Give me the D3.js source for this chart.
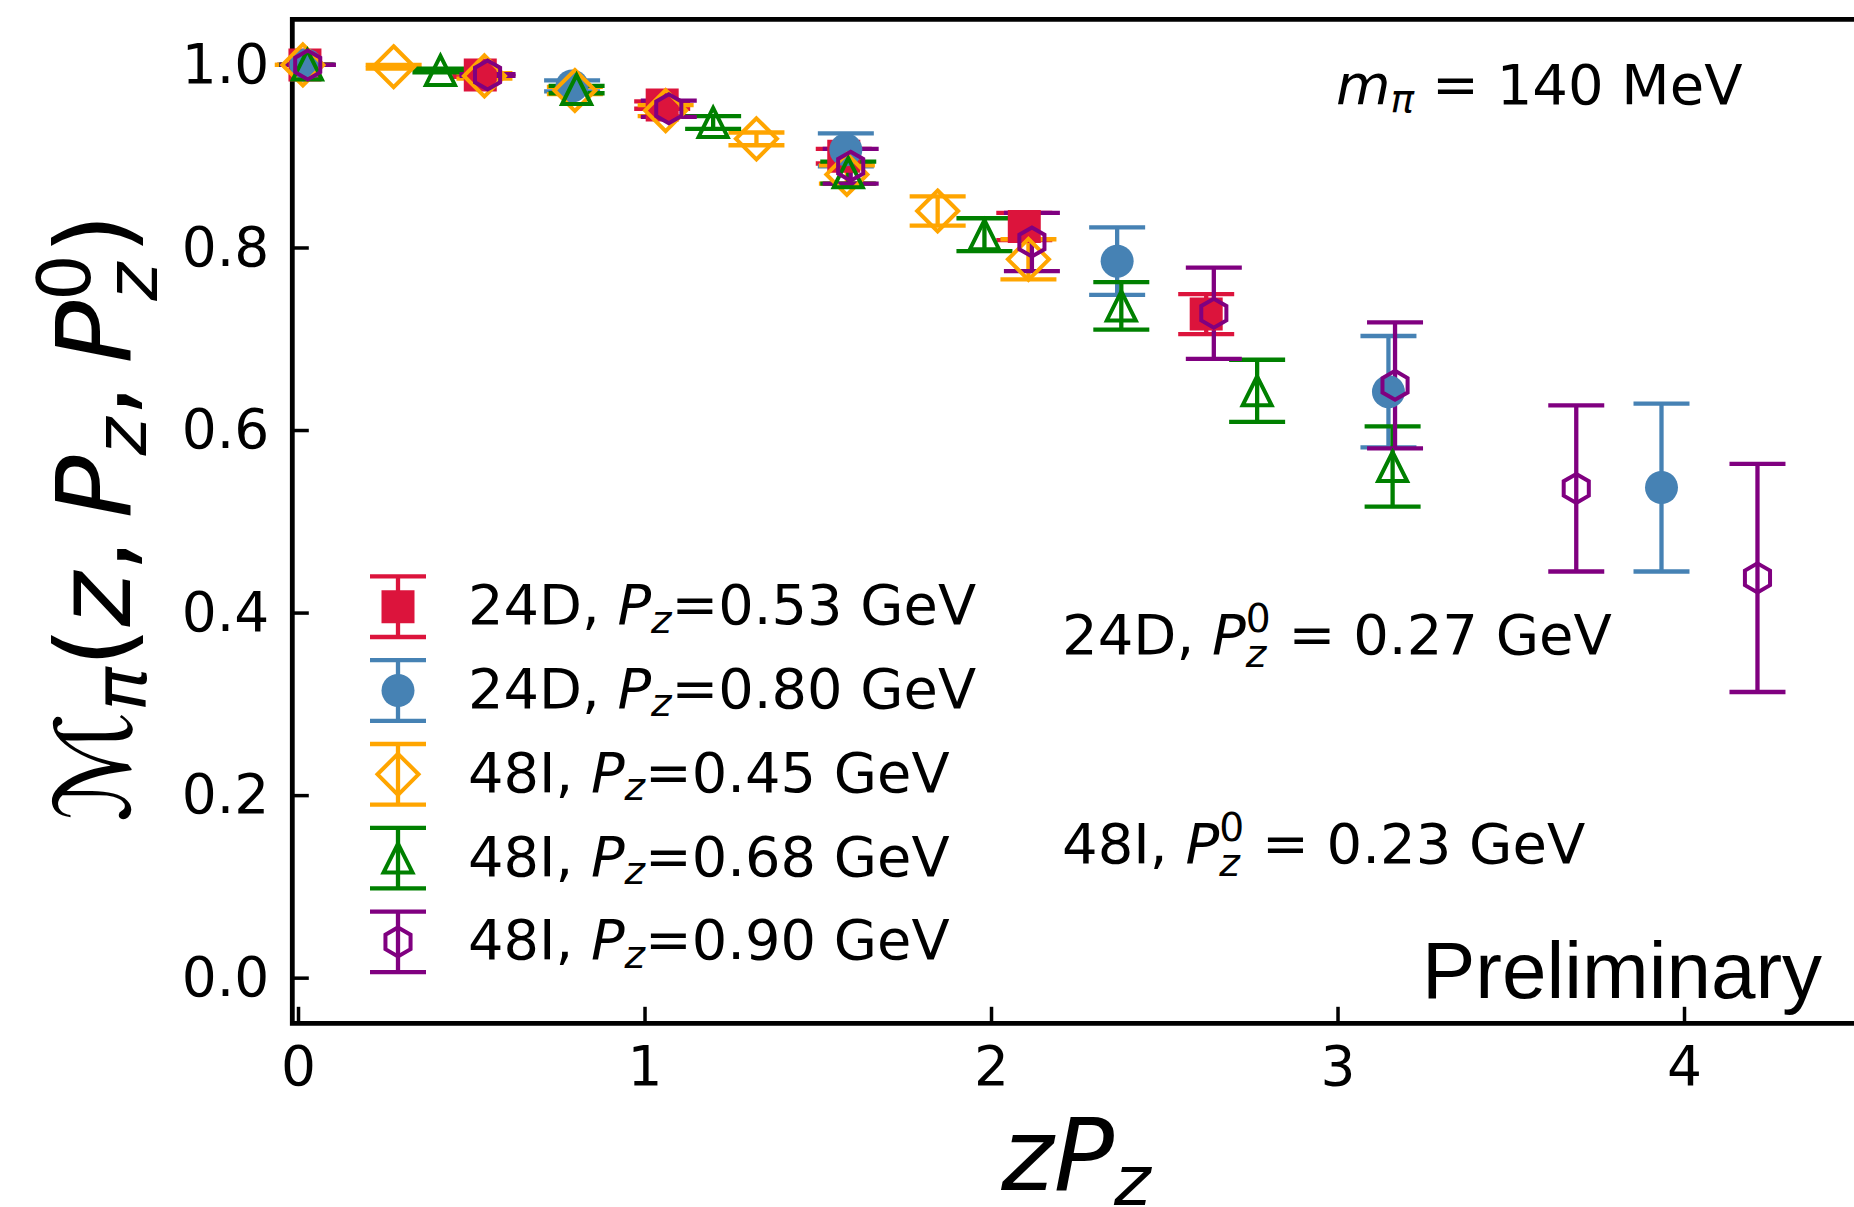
<!DOCTYPE html>
<html>
<head>
<meta charset="utf-8">
<script src="https://cdn.jsdelivr.net/npm/d3@7/dist/d3.min.js"></script>
<style>
  body { margin: 0; background: #fff; }
  svg text { font-family: "DejaVu Sans"; fill: #000; }
</style>
</head>
<body>
<svg id="mainsvg" width="1854" height="1207"></svg>
<script>
// zP_z, matrix element and error for every ensemble / momentum
const zp24D053 = [0.020, 0.526, 1.051, 1.575, 2.096, 2.621];
const m24D053  = [1.000, 0.989, 0.956, 0.900, 0.823, 0.727];
const e24D053  = [0.000, 0.002, 0.004, 0.008, 0.015, 0.022];

const zp24D080 = [0.023, 0.791, 1.581, 2.364, 3.147, 3.935];
const m24D080  = [1.000, 0.977, 0.907, 0.785, 0.642, 0.537];
const e24D080  = [0.000, 0.006, 0.018, 0.037, 0.061, 0.092];

const zp48I045 = [0.014, 0.276, 0.538, 0.799, 1.061, 1.323, 1.584, 1.846, 2.108];
const m48I045  = [1.000, 0.998, 0.988, 0.972, 0.950, 0.919, 0.880, 0.840, 0.787];
const e48I045  = [0.000, 0.002, 0.003, 0.004, 0.006, 0.007, 0.010, 0.016, 0.022];

const zp48I068 = [0.027, 0.411, 0.804, 1.198, 1.588, 1.981, 2.376, 2.768, 3.159];
const m48I068  = [1.000, 0.994, 0.973, 0.937, 0.882, 0.814, 0.736, 0.643, 0.560];
const e48I068  = [0.000, 0.002, 0.004, 0.007, 0.012, 0.018, 0.026, 0.034, 0.044];

const zp48I090 = [0.028, 0.547, 1.070, 1.595, 2.118, 2.643, 3.166, 3.689, 4.212];
const m48I090  = [1.000, 0.989, 0.952, 0.889, 0.806, 0.728, 0.649, 0.536, 0.438];
const e48I090  = [0.000, 0.001, 0.009, 0.019, 0.032, 0.050, 0.069, 0.091, 0.125];

const legendEns = ["24D", "24D", "48I", "48I", "48I"];
const legendPz  = ["0.53", "0.80", "0.45", "0.68", "0.90"];
const refPz     = ["0.27", "0.23"];
const xTicks = [0, 1, 2, 3, 4];
const yTicks = [0.0, 0.2, 0.4, 0.6, 0.8, 1.0];

let svg = d3.select("#mainsvg");
svg.append("rect").attr("width", 1854).attr("height", 1207).attr("fill", "#fff");

let x = d3.scaleLinear().domain([-0.0165, 4.52]).range([292.3, 1864.2]);
let y = d3.scaleLinear().domain([-0.05, 1.05]).range([1023.3, 19.3]);

const colors  = ["crimson", "steelblue", "orange", "green", "purple"];
const markers = ["square", "circle", "diamond", "triangle", "hexagon"];

let table = [
    [zp24D053, m24D053, e24D053],
    [zp24D080, m24D080, e24D080],
    [zp48I045, m48I045, e48I045],
    [zp48I068, m48I068, e48I068],
    [zp48I090, m48I090, e48I090]
].map((s, k) => s[0].map((v, j) => ({x: v, y: s[1][j], e: s[2][j], k: k})));

// matplotlib-like marker outlines, m = marker size in px
function markerPath(type, m) {
    let r = m / 2;
    if (type === "square") {
        let h = 16.5;
        return `M${-h},${-h}H${h}V${h}H${-h}Z`;
    }
    if (type === "circle") {
        return d3.symbol(d3.symbolCircle, Math.PI * 16.5 * 16.5)();
    }
    if (type === "diamond") {
        let d = r * Math.SQRT2;
        return `M0,${-d}L${d},0L0,${d}L${-d},0Z`;
    }
    if (type === "triangle") {
        return `M0,${-r}L${r},${r}L${-r},${r}Z`;
    }
    let s = r * Math.sqrt(3) / 2;
    return `M0,${-r}L${s},${-r / 2}L${s},${r / 2}L0,${r}L${-s},${r / 2}L${-s},${-r / 2}Z`;
}

function drawMarker(g, k, cx, cy) {
    let filled = k < 2;
    g.append("path")
        .attr("d", markerPath(markers[k], 29))
        .attr("transform", `translate(${cx},${cy})`)
        .attr("fill", filled ? colors[k] : "none")
        .attr("stroke", filled ? "none" : colors[k])
        .attr("stroke-width", 4)
        .attr("stroke-linejoin", "miter");
}

function drawBar(g, k, cx, y1, y2) {
    let c = colors[k];
    g.append("line").attr("x1", cx).attr("x2", cx).attr("y1", y1).attr("y2", y2)
        .attr("stroke", c).attr("stroke-width", 4.3);
    [y1, y2].forEach(yy => {
        g.append("line").attr("x1", cx - 28).attr("x2", cx + 28).attr("y1", yy).attr("y2", yy)
            .attr("stroke", c).attr("stroke-width", 4.3);
    });
}

// text with italic pieces, sub- and superscripts
function mathText(parent, parts, size, family) {
    let g = parent.append("g");
    let cx = 0, stackW = 0;
    parts.forEach(p => {
        let fs = (p.sub || p.sup) ? size * 0.7 : size;
        let dy = p.sub ? size * p.sub : p.sup ? -size * p.sup : 0;
        let t = g.append("text")
            .attr("x", cx).attr("y", dy)
            .attr("font-size", fs)
            .style("font-style", p.it ? "italic" : "normal")
            .text(p.t);
        if (family) t.style("font-family", family);
        let w = t.node().getComputedTextLength();
        if (p.stack) {
            stackW = w;
        } else {
            cx += Math.max(w, stackW);
            stackW = 0;
        }
    });
    return {g: g, w: cx};
}

// axes
let xAxis = d3.axisBottom(x).tickValues(xTicks).tickFormat(d3.format("d"))
    .tickSize(-16.5).tickSizeOuter(0).tickPadding(22.7);
let gx = svg.append("g").attr("transform", `translate(0,${y(-0.05)})`).call(xAxis);
let yAxis = d3.axisLeft(y).tickValues(yTicks).tickFormat(d3.format(".1f"))
    .tickSize(-16.5).tickSizeOuter(0).tickPadding(23);
let gy = svg.append("g").attr("transform", `translate(${x(-0.0165)},0)`).call(yAxis);
[gx, gy].forEach(g => {
    g.select(".domain").remove();
    g.attr("font-size", 55).attr("font-family", "DejaVu Sans");
    g.selectAll(".tick line").attr("stroke", "#000").attr("stroke-width", 3.5);
    g.selectAll(".tick text").attr("fill", "#000");
});

// spines
let x0 = x.range()[0], x1 = x.range()[1], yb = y.range()[0], yt = y.range()[1];
svg.append("path")
    .attr("d", `M${x0},${yb}H${x1}V${yt}H${x0}Z`)
    .attr("fill", "none").attr("stroke", "#000").attr("stroke-width", 4.8);

// error bars first, then markers on top of them
let plotg = svg.append("g");
table.forEach(s => s.forEach(d => drawBar(plotg, d.k, x(d.x), y(d.y + d.e), y(d.y - d.e))));
table.forEach(s => s.forEach(d => drawMarker(plotg, d.k, x(d.x), y(d.y))));

// legend
let legg = svg.append("g");
legendEns.forEach((ens, i) => {
    let cy = 606.7 + i * 83.8;
    drawBar(legg, i, 398, cy - 30.3, cy + 30.3);
    drawMarker(legg, i, 398, cy);
    let mt = mathText(legg, [
        {t: ens + ",\u00a0"},
        {t: "P", it: true},
        {t: "z", it: true, sub: 0.15},
        {t: "=" + legendPz[i] + "\u00a0GeV"}
    ], 55.8);
    mt.g.attr("transform", `translate(468,${cy + 17.5})`);
});

// annotations
let mpi = mathText(svg, [
    {t: "m", it: true},
    {t: "\u03c0", it: true, sub: 0.15},
    {t: "\u00a0=\u00a0140\u00a0MeV"}
], 56);
mpi.g.attr("transform", "translate(1336,104)");

["24D", "48I"].forEach((ens, i) => {
    let mt = mathText(svg, [
        {t: ens + ",\u00a0"},
        {t: "P", it: true},
        {t: "0", sup: 0.4, stack: true},
        {t: "z", it: true, sub: 0.24},
        {t: "\u00a0=\u00a0" + refPz[i] + "\u00a0GeV"}
    ], 56);
    mt.g.attr("transform", `translate(1062,${654 + i * 209})`);
});

svg.append("text").attr("x", 1422).attr("y", 998)
    .style("font-family", "Liberation Sans").attr("font-size", 80)
    .text("Preliminary");

// axis labels
let xl = mathText(svg, [
    {t: "z", it: true},
    {t: "P", it: true},
    {t: "z", it: true, sub: 0.15}
], 100);
xl.g.attr("transform", `translate(${1076 - xl.w / 2},1190)`);

let ylg = svg.append("g").attr("transform", "translate(130,518) rotate(-90)");
let yl = mathText(ylg, [
    {t: "\u2133"},
    {t: "\u03c0", it: true, sub: 0.15},
    {t: "(", },
    {t: "z", it: true},
    {t: ",\u2009"},
    {t: "P", it: true},
    {t: "z", it: true, sub: 0.15},
    {t: ",\u2009"},
    {t: "P", it: true},
    {t: "0", sup: 0.38, stack: true},
    {t: "z", it: true, sub: 0.26},
    {t: ")"}
], 104);
yl.g.attr("transform", `translate(${-yl.w / 2},0)`);
</script>
</body>
</html>
